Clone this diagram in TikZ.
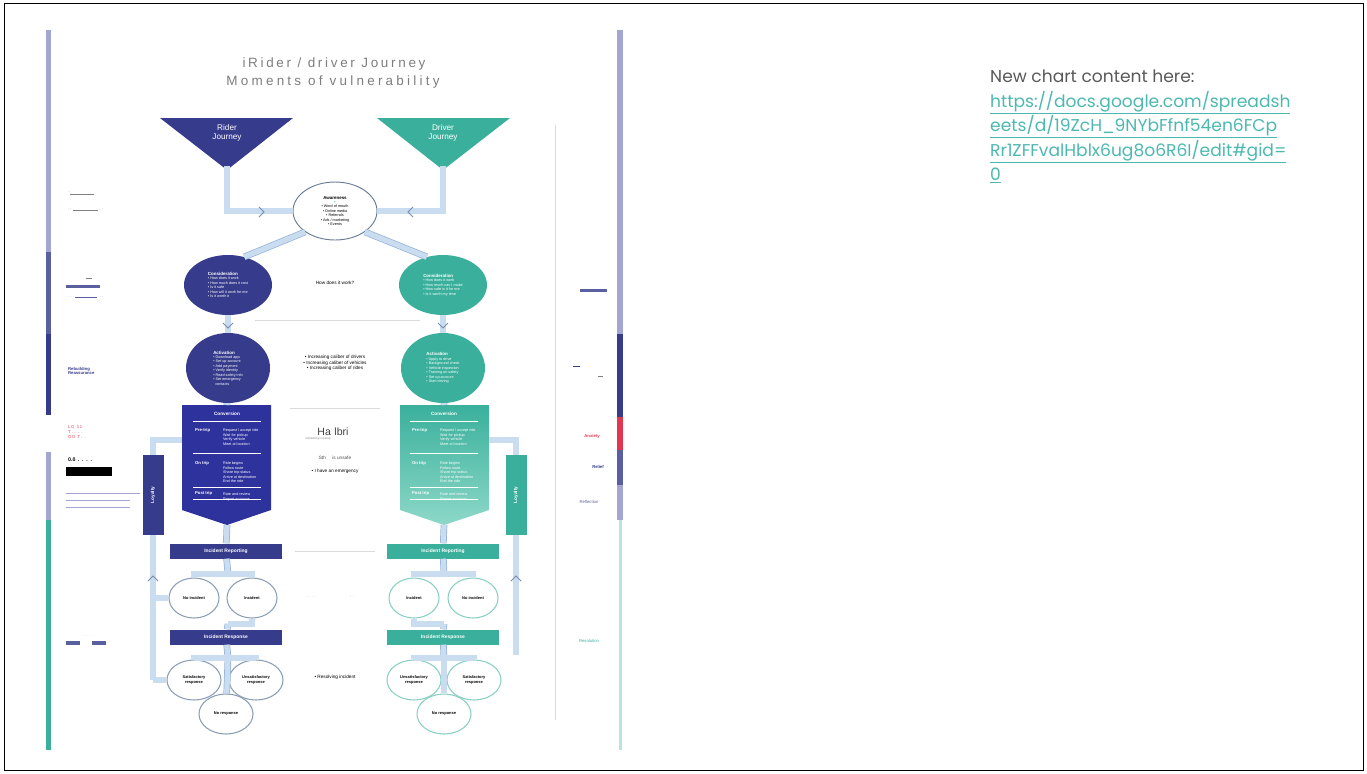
\documentclass[tikz,border=0pt]{standalone}
\usepackage{fontspec}
\setmainfont{Liberation Sans}
\newfontfamily\linkfont{Poppins}
\usetikzlibrary{positioning,shapes.geometric}

\definecolor{ridernavy}{HTML}{363B8C}
\definecolor{driverteal}{HTML}{3AB09C}
\definecolor{driverlight}{HTML}{8DD8C8}
\definecolor{pipefill}{HTML}{CADCEF}
\definecolor{pipeedge}{HTML}{93B2D8}
\definecolor{barlilac}{HTML}{A3A6D1}
\definecolor{barslate}{HTML}{5A5F9F}
\definecolor{alarmred}{HTML}{E2354E}
\definecolor{rulegrey}{HTML}{DADADA}
\definecolor{titlegrey}{HTML}{7E7E7E}
\definecolor{linkteal}{HTML}{4CB8B0}

\tikzset{
  pipe/.style={draw=pipeedge, double=pipefill, double distance=4.5pt, line width=0.6pt},
  tiny/.style={font=\fontsize{3.2}{3.8}\selectfont, align=left},
  riderstage/.style={ellipse, fill=ridernavy, text=white, inner sep=0pt, tiny},
  driverstage/.style={ellipse, fill=driverteal, text=white, inner sep=0pt, tiny},
  outcome/.style={ellipse, draw=#1, line width=0.9pt, fill=white, minimum width=1.5cm, minimum height=1.2cm, inner sep=0pt, font=\fontsize{3.4}{4}\selectfont\bfseries, align=center},
  stepbar/.style={fill=#1, text=white, minimum width=3.36cm, minimum height=0.45cm, inner sep=0pt, font=\fontsize{4.2}{5}\selectfont\bfseries},
  loopbar/.style={fill=#1, text=white, minimum width=2.4cm, minimum height=0.63cm, inner sep=0pt, font=\fontsize{4}{5}\selectfont\bfseries, rotate=90},
  midnote/.style={font=\fontsize{4}{4.8}\selectfont, align=center},
  chev/.pic={\draw[pipeedge!80!black, line width=0.7pt] (-3,-5) -- (2,0) -- (-3,5);}
}

\begin{document}
\begin{tikzpicture}[x=0.03cm, y=-0.03cm]
\useasboundingbox (0,0) rectangle (1367,773);
\draw[black, line width=0.8pt] (4,3) rectangle (1363,770);

% side bars
\fill[barlilac] (46,30) rectangle (51,252);
\fill[barslate] (46,252) rectangle (51,334);
\fill[ridernavy] (46,334) rectangle (51,415);
\fill[barlilac] (46,452) rectangle (51,520);
\fill[driverteal] (46,520) rectangle (51,750);
\fill[barlilac] (617,30) rectangle (623,334);
\fill[ridernavy] (617,334) rectangle (623,417);
\fill[alarmred] (617,417) rectangle (623,450);
\fill[barslate] (617,450) rectangle (623,485);
\fill[barlilac] (617,485) rectangle (623,520);
\fill[driverteal!35] (619,520) rectangle (622,750);
\draw[rulegrey, line width=0.8pt] (555,125) -- (555,720);

% title
\node[text=titlegrey, font=\fontsize{11.5}{13}\selectfont\addfontfeature{LetterSpace=20}] (title) at (334,64) {iRider / driver Journey};
\node[text=titlegrey, font=\fontsize{11.5}{13}\selectfont\addfontfeature{LetterSpace=24}] (subtitle) at (333,82) {Moments  of vulnerability};

% journey heads
\fill[ridernavy] (160,118) -- (293,118) -- (227,170) -- cycle;
\fill[driverteal] (377,118) -- (510,118) -- (443,170) -- cycle;
\node[text=white, font=\fontsize{7}{7.5}\selectfont, align=center] (riderhead) at (227,133) {Rider\\Journey};
\node[text=white, font=\fontsize{7}{7.5}\selectfont, align=center] (driverhead) at (443,133) {Driver\\Journey};
\coordinate (riderapex) at (227,166);
\coordinate (driverapex) at (443,166);

% stages
\node[ellipse, draw=pipeedge!70!black, line width=0.8pt, fill=white, minimum width=2.52cm, minimum height=1.74cm, inner sep=0pt, tiny, align=center] (awareness) at (335,211)
  {\fontsize{3.8}{4.4}\selectfont\bfseries Awareness\\[-0.5pt]{\color{driverteal}+}\\ \textbullet~Word of mouth\\ \textbullet~Online media\\ \textbullet~Referrals\\ \textbullet~Ads / marketing\\ \textbullet~Events};
\node[riderstage, minimum width=2.64cm, minimum height=1.8cm] (riderconsid) at (228,285)
  {{\fontsize{3.8}{4.4}\selectfont\bfseries Consideration}\\ \textbullet~How does it work\\ \textbullet~How much does it cost\\ \textbullet~Is it safe\\ \textbullet~How will it work for me\\ \textbullet~Is it worth it};
\node[driverstage, minimum width=2.64cm, minimum height=1.8cm] (driverconsid) at (443,285)
  {{\fontsize{3.8}{4.4}\selectfont\bfseries Consideration}\\ \textbullet~How does it work\\ \textbullet~How much can I make\\ \textbullet~How safe is it for me\\ \textbullet~Is it worth my time};
\node[riderstage, minimum width=2.52cm, minimum height=2.1cm] (rideractiv) at (228,368)
  {{\fontsize{3.8}{4.4}\selectfont\bfseries Activation}\\ \textbullet~Download app\\ \textbullet~Set up account\\ \textbullet~Add payment\\ \textbullet~Verify identity\\ \textbullet~Read safety info\\ \textbullet~Set emergency\\ \ \ contacts};
\node[driverstage, minimum width=2.52cm, minimum height=2.1cm] (driveractiv) at (443,368)
  {{\fontsize{3.8}{4.4}\selectfont\bfseries Activation}\\ \textbullet~Apply to drive\\ \textbullet~Background check\\ \textbullet~Vehicle inspection\\ \textbullet~Training on safety\\ \textbullet~Set up account\\ \textbullet~Start driving};

% conversion shields
\fill[ridernavy!85!blue] (182,405) -- (271,405) -- (271,510) -- (227,525) -- (182,510) -- cycle;
\shade[top color=driverteal, bottom color=driverlight] (400,405) -- (489,405) -- (489,510) -- (444,525) -- (400,510) -- cycle;
\coordinate (riderconvtop) at (227,405);
\coordinate (riderconvtip) at (227,525);
\coordinate (riderconvside) at (182,440);
\coordinate (driverconvtop) at (444,405);
\coordinate (driverconvtip) at (444,525);
\coordinate (driverconvside) at (489,440);
\foreach \side/\mid in {rider/227, driver/444} {
  \node[text=white, font=\fontsize{4}{5}\selectfont\bfseries] (\side convhead) at (\mid,414) {Conversion};
  \foreach \ry in {421,453,487,499}
    \draw[white, line width=0.5pt] (\mid-34,\ry) -- (\mid+34,\ry);
  \node[text=white, font=\fontsize{3.6}{4}\selectfont\bfseries, anchor=west] (\side pre) at (\mid-36,430) {Pre-trip};
  \node[text=white, font=\fontsize{3.6}{4}\selectfont\bfseries, anchor=west] (\side on) at (\mid-36,463) {On trip};
  \node[text=white, font=\fontsize{3.6}{4}\selectfont\bfseries, anchor=west] (\side post) at (\mid-36,493) {Post trip};
  \node[text=white, tiny, anchor=north west] (\side predet) at (\mid-8,425) {Request / accept ride\\Wait for pickup\\Verify vehicle\\Meet at location};
  \node[text=white, tiny, anchor=north west] (\side ondet) at (\mid-8,458) {Ride begins\\Follow route\\Share trip status\\Arrive at destination\\End the ride};
  \node[text=white, tiny, anchor=north west] (\side postdet) at (\mid-8,489) {Rate and review\\Report an issue};
}

% loyalty bars
\node[loopbar=ridernavy] (riderloop) at (153,495) {Loyalty};
\node[loopbar=driverteal] (driverloop) at (516,495) {Loyalty};

% reporting and response
\node[stepbar=ridernavy] (riderreport) at (226,551) {Incident Reporting};
\node[stepbar=driverteal] (driverreport) at (443,551) {Incident Reporting};
\node[stepbar=ridernavy] (riderresp) at (226,637) {Incident Response};
\node[stepbar=driverteal] (driverresp) at (443,637) {Incident Response};

\node[outcome=pipeedge!60!gray] (ridernone) at (194,598) {No incident};
\node[outcome=pipeedge!60!gray] (riderinc) at (252,598) {Incident};
\node[outcome=driverteal!60] (driverinc) at (414,598) {Incident};
\node[outcome=driverteal!60] (drivernone) at (473,598) {No incident};
\node[outcome=pipeedge!60!gray, minimum width=1.62cm] (ridersat) at (194,680) {Satisfactory\\response};
\node[outcome=pipeedge!60!gray, minimum width=1.62cm] (riderunsat) at (256,680) {Unsatisfactory\\response};
\node[outcome=pipeedge!60!gray, minimum width=1.62cm] (ridernoresp) at (226,714) {No response};
\node[outcome=driverteal!60, minimum width=1.62cm] (driverunsat) at (414,680) {Unsatisfactory\\response};
\node[outcome=driverteal!60, minimum width=1.62cm] (driversat) at (474,680) {Satisfactory\\response};
\node[outcome=driverteal!60, minimum width=1.62cm] (drivernoresp) at (444,714) {No response};

\coordinate (ridersplit) at (228,574);
\coordinate (driversplit) at (444,574);
\coordinate (riderjoin) at (228,624);
\coordinate (driverjoin) at (444,624);
\coordinate (ridersplitb) at (228,658);
\coordinate (driversplitb) at (444,658);
\coordinate (riderloopmid) at (153,598);
\coordinate (riderloopend) at (153,680);
\coordinate (driverloopend) at (516,655);

% pipes
\foreach \from/\to in {riderapex/awareness, driverapex/awareness}
  \draw[pipe] (\from) |- (\to);
\foreach \from/\to in {awareness.215/riderconsid.60, awareness.325/driverconsid.120,
    riderconsid/rideractiv, driverconsid/driveractiv,
    rideractiv/riderconvtop, driveractiv/driverconvtop,
    riderconvtip/riderreport, driverconvtip/driverreport,
    riderreport/ridersplit, driverreport/driversplit,
    riderjoin/riderresp, driverjoin/driverresp,
    riderresp/ridersplitb, driverresp/driversplitb,
    ridersplitb/ridernoresp, driversplitb/drivernoresp,
    riderloop/riderloopend, driverloop/driverloopend, riderloopmid/ridernone}
  \draw[pipe] (\from) -- (\to);
\foreach \from/\to in {ridersplit/ridernone, ridersplit/riderinc, driversplit/driverinc, driversplit/drivernone,
    ridersplitb/ridersat, ridersplitb/riderunsat, driversplitb/driverunsat, driversplitb/driversat,
    riderconvside/riderloop, driverconvside/driverloop}
  \draw[pipe] (\from) -| (\to);
\foreach \from/\to in {riderinc/riderjoin, driverinc/driverjoin, riderloopend/ridersat}
  \draw[pipe] (\from) |- (\to);

\pic at (262,212) {chev};
\pic[rotate=180] at (410,212) {chev};
\pic[rotate=-90] at (228,326) {chev};
\pic[rotate=-90] at (443,326) {chev};
\pic[rotate=90] at (153,578) {chev};
\pic[rotate=90] at (516,578) {chev};

% middle notes
\node[midnote] (howitworks) at (335,283) {How does it work?};
\draw[rulegrey, line width=0.8pt] (255,320) -- (420,320);
\node[midnote] (caliber) at (335,363) {\textbullet~Increasing caliber of drivers\\ \textbullet~Increasing caliber of vehicles\\ \textbullet~Increasing caliber of rides};
\draw[rulegrey, line width=0.8pt] (290,408) -- (380,408);
\node[font=\fontsize{9}{10}\selectfont, text=black!75] (garble) at (333,432) {Ha\,\,lbri};
\node[font=\fontsize{2.5}{3}\selectfont, text=gray] (garblesub) at (318,439) {something is wrong};
\node[font=\fontsize{4}{5}\selectfont, text=black!70] (garbleb) at (335,458) {Sth \ \ \ \ is unsafe};
\node[midnote] (emergency) at (335,471) {\textbullet~I have an emergency};
\draw[rulegrey, line width=0.8pt] (295,551) -- (375,551);
\node[font=\fontsize{3}{3.5}\selectfont, text=gray] (dotsa) at (312,597) {- \ . . . .};
\node[font=\fontsize{3}{3.5}\selectfont, text=gray] (dotsb) at (352,597) {- \ .};
\node[midnote] (resolving) at (335,677) {\textbullet~Resolving incident};

% left margin notes
\node[tiny, text=gray, anchor=west] (leftnotea) at (64,193) {\textsuperscript{--}\rule[0.3pt]{20pt}{0.25pt}};
\node[tiny, text=gray, anchor=west] (leftnoteb) at (64,210) {- - \rule[0.3pt]{22pt}{0.25pt} - -};
\node[tiny, text=gray, anchor=west] (leftnotec) at (82,278) {\rule[0.3pt]{5pt}{0.25pt}};
\fill[barslate] (66,285) rectangle (100,288);
\node[tiny, text=barslate, anchor=west] (leftnoted) at (64,297) {. . . \rule[0.3pt]{18pt}{0.4pt} . . .};
\node[tiny, font=\fontsize{3.6}{4}\selectfont\bfseries, text=ridernavy, anchor=west] (rebuild) at (64,371) {Rebuilding\\Reassurance};
\node[tiny, font=\fontsize{3.6}{4.2}\selectfont, text=alarmred, anchor=west] (leftred) at (64,432) {L\,O \ 1\,1\\T .\,.\,.\,.\,.\,.\\O\,O \ T\,. \ .};
\node[tiny, font=\fontsize{4.5}{5}\selectfont\bfseries, text=black, anchor=west] (leftblack) at (64,460) {0.0 \,. \,. \,. \,.};
\fill[black] (66,467) rectangle (112,476);
\foreach \ly/\lx in {493/140, 500/130, 507/130}
  \draw[barlilac, line width=0.8pt] (66,\ly) -- (\lx,\ly);
\node[tiny, text=barlilac, anchor=west] (leftdots) at (78,636) {. . . . .};
\fill[barslate] (66,641) rectangle (80,645);
\fill[barslate] (92,641) rectangle (106,645);

% right margin notes
\fill[barslate] (580,289) rectangle (607,292);
\draw[ridernavy, line width=0.8pt] (573,366) -- (580,366);
\draw[gray, line width=0.5pt] (598,376) -- (603,376);
\node[font=\fontsize{3.6}{4}\selectfont\bfseries, text=alarmred] (anxiety) at (592,436) {Anxiety};
\node[font=\fontsize{3.6}{4}\selectfont\bfseries, text=ridernavy] (relief) at (598,467) {Relief};
\node[font=\fontsize{3.6}{4}\selectfont, text=barslate] (reflect) at (589,502) {Reflection};
\node[font=\fontsize{3.6}{4}\selectfont, text=driverteal] (resolve) at (589,641) {Resolution};

% chart link
\node[anchor=north west, inner sep=0pt, font=\linkfont\fontsize{14.6}{20.8}\selectfont, text=black!65, align=left] (chartnote) at (990,70)
  {New chart content here:\\
   {\color{linkteal}\underline{https://docs.google.com/spreadsh}}\\
   {\color{linkteal}\underline{eets/d/19ZcH\_9NYbFfnf54en6FCp}}\\
   {\color{linkteal}\underline{Rr1ZFFvalHblx6ug8o6R6I/edit\#gid=}}\\
   {\color{linkteal}\underline{0}}};
\end{tikzpicture}
\end{document}
